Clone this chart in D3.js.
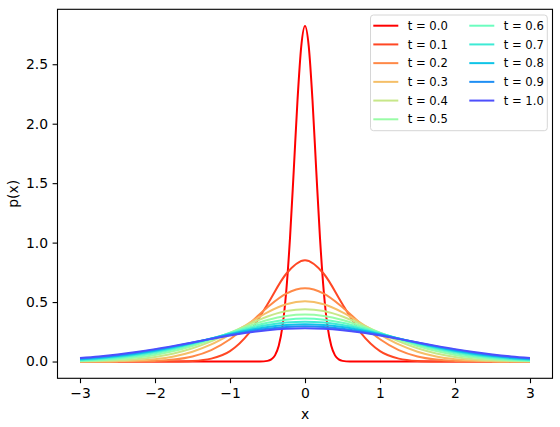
<!DOCTYPE html>
<html>
<head>
<meta charset="utf-8">
<script src="https://cdn.jsdelivr.net/npm/d3@7"></script>
<style>
  body { margin: 0; background: #fff; }
  text { font-family: "DejaVu Sans", sans-serif; }
</style>
</head>
<body>
<div class="chart"></div>
<script>
// Times of each curve and their colours
const times = ["0.0", "0.1", "0.2", "0.3", "0.4", "0.5", "0.6", "0.7", "0.8", "0.9", "1.0"];
const colors = ["#ff0000", "#ff4724", "#ff8947", "#f5bf68", "#c7e789", "#99fca6",
                "#6bfdbf", "#3dead5", "#0fc4e7", "#1f8ff4", "#4d4ffc"];

// x positions for the narrow t = 0 curve
const xNarrow = [-3, -0.7, -0.6, -0.5, -0.45, -0.4, -0.35, -0.3, -0.25, -0.2, -0.15, -0.1, -0.05, 0,
                 0.05, 0.1, 0.15, 0.2, 0.25, 0.3, 0.35, 0.4, 0.45, 0.5, 0.6, 0.7, 3];
const p0 = [0, 0, 0.0003, 0.0054, 0.0179, 0.0517, 0.132, 0.297, 0.591, 1.038, 1.607, 2.197, 2.650, 2.821,
            2.650, 2.197, 1.607, 1.038, 0.591, 0.297, 0.132, 0.0517, 0.0179, 0.0054, 0.0003, 0, 0];

// x positions for the wider curves
const xWide = [-3, -2.75, -2.5, -2.25, -2, -1.75, -1.5, -1.25, -1, -0.75, -0.5, -0.25, 0,
               0.25, 0.5, 0.75, 1, 1.25, 1.5, 1.75, 2, 2.25, 2.5, 2.75, 3];
const p1 = [0, 0, 0, 0, 0.0001, 0.0008, 0.0051, 0.0244, 0.0876, 0.237, 0.482, 0.738, 0.851,
            0.738, 0.482, 0.237, 0.0876, 0.0244, 0.0051, 0.0008, 0.0001, 0, 0, 0, 0];
const p2 = [0, 0.0001, 0.0004, 0.0015, 0.0053, 0.0161, 0.0422, 0.0958, 0.1872, 0.3151, 0.4571, 0.5714, 0.6156,
            0.5714, 0.4571, 0.3151, 0.1872, 0.0958, 0.0422, 0.0161, 0.0053, 0.0015, 0.0004, 0.0001, 0];
const p3 = [0.0004, 0.0011, 0.0033, 0.0085, 0.0201, 0.0429, 0.0825, 0.1437, 0.2262, 0.3219, 0.4142, 0.4818, 0.5067,
            0.4818, 0.4142, 0.3219, 0.2262, 0.1437, 0.0825, 0.0429, 0.0201, 0.0085, 0.0033, 0.0011, 0.0004];
const p4 = [0.0018, 0.0044, 0.0098, 0.0201, 0.0385, 0.0681, 0.1117, 0.1699, 0.2394, 0.3127, 0.3783, 0.4241, 0.4406,
            0.4241, 0.3783, 0.3127, 0.2394, 0.1699, 0.1117, 0.0681, 0.0385, 0.0201, 0.0098, 0.0044, 0.0018];
const p5 = [0.0048, 0.0097, 0.0184, 0.0330, 0.0556, 0.0880, 0.1311, 0.1836, 0.2419, 0.2998, 0.3495, 0.3831, 0.3950,
            0.3831, 0.3495, 0.2998, 0.2419, 0.1836, 0.1311, 0.0880, 0.0556, 0.0330, 0.0184, 0.0097, 0.0048];
const p6 = [0.0090, 0.0163, 0.0279, 0.0454, 0.0701, 0.1030, 0.1436, 0.1904, 0.2398, 0.2868, 0.3260, 0.3521, 0.3612,
            0.3521, 0.3260, 0.2868, 0.2398, 0.1904, 0.1436, 0.1030, 0.0701, 0.0454, 0.0279, 0.0163, 0.0090];
const p7 = [0.0141, 0.0234, 0.0371, 0.0563, 0.0819, 0.1139, 0.1516, 0.1931, 0.2354, 0.2746, 0.3066, 0.3275, 0.3348,
            0.3275, 0.3066, 0.2746, 0.2354, 0.1931, 0.1516, 0.1139, 0.0819, 0.0563, 0.0371, 0.0234, 0.0141];
const p8 = [0.0195, 0.0304, 0.0455, 0.0657, 0.0912, 0.1218, 0.1565, 0.1935, 0.2302, 0.2634, 0.2901, 0.3074, 0.3134,
            0.3074, 0.2901, 0.2634, 0.2302, 0.1935, 0.1565, 0.1218, 0.0912, 0.0657, 0.0455, 0.0304, 0.0195];
const p9 = [0.0250, 0.0370, 0.0531, 0.0736, 0.0985, 0.1275, 0.1594, 0.1925, 0.2247, 0.2534, 0.2761, 0.2907, 0.2957,
            0.2907, 0.2761, 0.2534, 0.2247, 0.1925, 0.1594, 0.1275, 0.0985, 0.0736, 0.0531, 0.0370, 0.0250];
const p10 = [0.0303, 0.0432, 0.0598, 0.0802, 0.1043, 0.1315, 0.1608, 0.1906, 0.2191, 0.2442, 0.2639, 0.2764, 0.2807,
             0.2764, 0.2639, 0.2442, 0.2191, 0.1906, 0.1608, 0.1315, 0.1043, 0.0802, 0.0598, 0.0432, 0.0303];

const xTicks = [-3, -2, -1, 0, 1, 2, 3];
const yTicks = [0, 0.5, 1.0, 1.5, 2.0, 2.5];

const series = [
    { x: xNarrow, y: p0 }, { x: xWide, y: p1 }, { x: xWide, y: p2 }, { x: xWide, y: p3 },
    { x: xWide, y: p4 }, { x: xWide, y: p5 }, { x: xWide, y: p6 }, { x: xWide, y: p7 },
    { x: xWide, y: p8 }, { x: xWide, y: p9 }, { x: xWide, y: p10 }
];

// Figure dimensions (axes box like matplotlib)
const W = 560, H = 427;
const margin = { top: 9.3, right: 7.5, bottom: 48.7, left: 57.5 };

const svg = d3.select(".chart")
    .append("svg")
    .attr("width", W)
    .attr("height", H);

// Scales with 5% padding around the data
const xMin = -3, xMax = 3;
const yMin = 0, yMax = d3.max(p0);
const xPad = (xMax - xMin) * 0.05, yPad = (yMax - yMin) * 0.05;

const xScale = d3.scaleLinear()
    .domain([xMin - xPad, xMax + xPad])
    .range([margin.left, W - margin.right]);

const yScale = d3.scaleLinear()
    .domain([yMin - yPad, yMax + yPad])
    .range([H - margin.bottom, margin.top]);

// Curves
const line = d3.line()
    .x(d => xScale(d[0]))
    .y(d => yScale(d[1]))
    .curve(d3.curveMonotoneX);

svg.append("g")
    .selectAll("path")
    .data(series)
    .enter()
    .append("path")
    .attr("fill", "none")
    .attr("stroke", (d, i) => colors[i])
    .attr("stroke-width", 2)
    .attr("stroke-linejoin", "round")
    .attr("d", d => line(d.x.map((xv, j) => [xv, d.y[j]])));

// Axes
const xAxis = svg.append("g")
    .attr("transform", `translate(0, ${H - margin.bottom})`)
    .call(d3.axisBottom(xScale).tickValues(xTicks).tickFormat(d3.format("d"))
        .tickSize(4.9).tickPadding(4.5));

const yAxis = svg.append("g")
    .attr("transform", `translate(${margin.left}, 0)`)
    .call(d3.axisLeft(yScale).tickValues(yTicks).tickFormat(d3.format(".1f"))
        .tickSize(4.9).tickPadding(4.5));

[xAxis, yAxis].forEach(ax => {
    ax.select(".domain").remove();
    ax.selectAll(".tick line").attr("stroke", "#000").attr("stroke-width", 1.1);
    ax.selectAll(".tick text")
        .attr("fill", "#000")
        .style("font-size", "13.9px")
        .style("font-family", "DejaVu Sans, sans-serif");
});

// Axes frame
svg.append("rect")
    .attr("x", margin.left)
    .attr("y", margin.top)
    .attr("width", W - margin.left - margin.right)
    .attr("height", H - margin.top - margin.bottom)
    .attr("fill", "none")
    .attr("stroke", "#000")
    .attr("stroke-width", 1.1);

// Axis labels
svg.append("text")
    .attr("x", (margin.left + W - margin.right) / 2)
    .attr("y", 419)
    .attr("text-anchor", "middle")
    .style("font-size", "13.9px")
    .text("x");

svg.append("text")
    .attr("transform", `translate(18, ${(margin.top + H - margin.bottom) / 2}) rotate(-90)`)
    .attr("text-anchor", "middle")
    .style("font-size", "13.9px")
    .text("p(x)");

// Legend, two columns filled column first
const legend = svg.append("g");
legend.append("rect")
    .attr("x", 370.5)
    .attr("y", 15)
    .attr("width", 176.8)
    .attr("height", 115.7)
    .attr("rx", 3)
    .attr("fill", "#fff")
    .attr("fill-opacity", 0.8)
    .attr("stroke", "#d6d6d6")
    .attr("stroke-width", 1);

const rowsPerCol = 6;
const items = legend.selectAll(".item")
    .data(times)
    .enter()
    .append("g")
    .attr("class", "item")
    .attr("transform", (d, i) => {
        const col = Math.floor(i / rowsPerCol), row = i % rowsPerCol;
        return `translate(${373.3 + col * 96}, ${25.7 + row * 18.72})`;
    });

items.append("line")
    .attr("x1", 0)
    .attr("x2", 25)
    .attr("stroke", (d, i) => colors[i])
    .attr("stroke-width", 2);

items.append("text")
    .attr("x", 34.4)
    .attr("dy", "0.36em")
    .style("font-size", "11.6px")
    .text(d => "t = " + d);
</script>
</body>
</html>
